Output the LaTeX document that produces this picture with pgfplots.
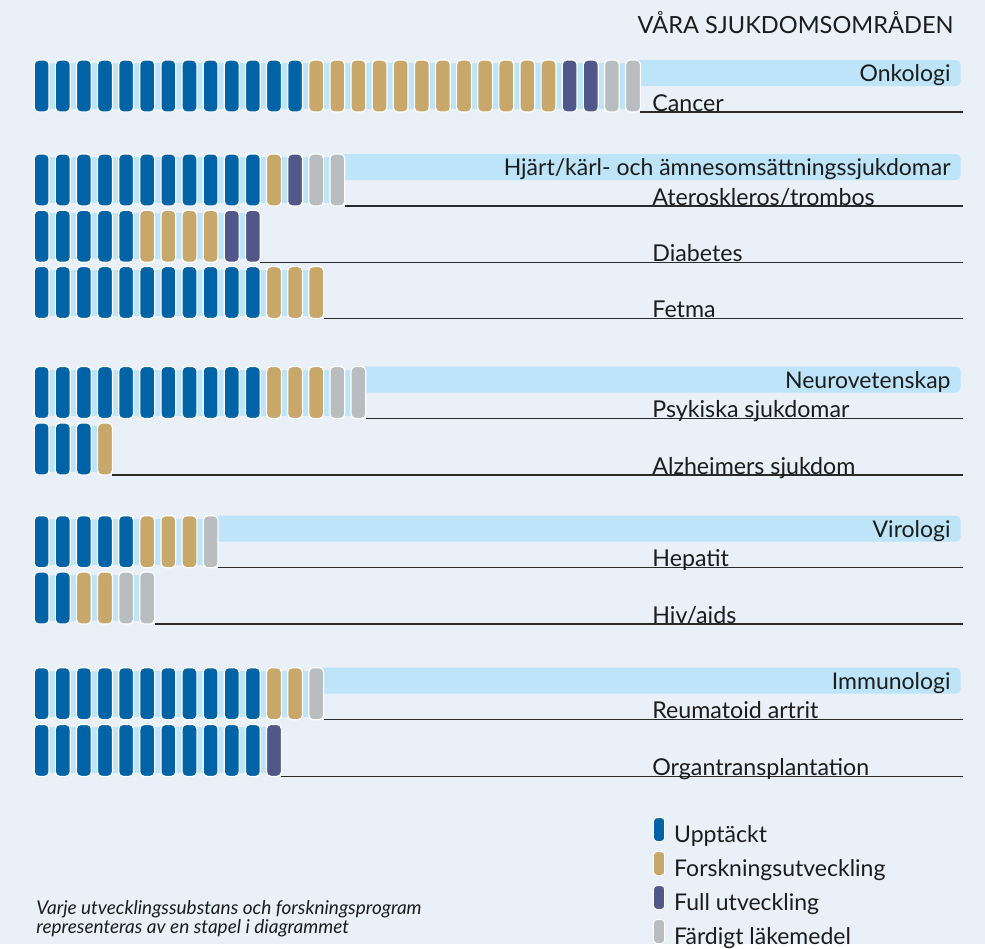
\documentclass[border=0pt]{standalone}
\usepackage{pgfplots}
\pgfplotsset{compat=1.18}
\usepackage{fontspec}
\setmainfont{Lato}
\definecolor{pagebg}{HTML}{EAF0F7}
\definecolor{band}{HTML}{BDE4F8}
\definecolor{cblue}{HTML}{0063A6}
\definecolor{ctan}{HTML}{C8A76B}
\definecolor{cpurple}{HTML}{525789}
\definecolor{cgray}{HTML}{BABDC0}
\definecolor{txt}{HTML}{1C1C1C}
\definecolor{rule}{HTML}{2A2A2A}
\pgfdeclareplotmark{pill}{%
  \pgfpathmoveto{\pgfpoint{-3.7bp}{-10.8bp}}%
  \pgfpathlineto{\pgfpoint{-3.7bp}{10.8bp}}%
  \pgfpatharc{180}{90}{2.2bp}%
  \pgfpathlineto{\pgfpoint{1.5bp}{13bp}}%
  \pgfpatharc{90}{0}{2.2bp}%
  \pgfpathlineto{\pgfpoint{3.7bp}{-10.8bp}}%
  \pgfpatharc{0}{-90}{2.2bp}%
  \pgfpathlineto{\pgfpoint{-1.5bp}{-13bp}}%
  \pgfpatharc{270}{180}{2.2bp}%
  \pgfpathclose
  \pgfusepathqfillstroke}
\newcommand{\legpill}[1]{\filldraw[fill=#1,draw=white,line width=0.5bp,rounded corners=1.8bp] (0bp,-2.5bp) rectangle (5.6bp,9.5bp);}
\newcommand{\lab}{\fontsize{11.6bp}{13bp}\selectfont}
\begin{document}
\begin{tikzpicture}
\fill[pagebg] (0,0) rectangle (492.5bp,472bp);
\begin{axis}[
  x=0.5bp, y=0.5bp, xmin=0, xmax=985, ymin=0, ymax=944, y dir=reverse,
  hide axis, clip=false, scale only axis, anchor=south west, at={(0,0)},
  legend style={at={(axis cs:653,817)}, anchor=north west, draw=none, fill=none,
    inner sep=0pt, outer sep=0pt, row sep=2bp, column sep=4.5bp,
    font=\fontsize{11.5bp}{13bp}\selectfont\color{txt},
    nodes={inner sep=0pt, text height=8bp, text depth=2.5bp}},
  legend cell align=left,
]
% light strips behind the bars (row extent)
\fill[band] (axis cs:36,63) rectangle (axis cs:638.5,109);
\fill[band] (axis cs:36,157) rectangle (axis cs:343,203);
\fill[band] (axis cs:36,213.3) rectangle (axis cs:258.5,259.3);
\fill[band] (axis cs:36,269.5) rectangle (axis cs:322,315.5);
\fill[band] (axis cs:36,369.5) rectangle (axis cs:364,415.5);
\fill[band] (axis cs:36,426) rectangle (axis cs:110.5,472);
\fill[band] (axis cs:36,518.7) rectangle (axis cs:216,564.7);
\fill[band] (axis cs:36,575) rectangle (axis cs:153,621);
\fill[band] (axis cs:36,670.7) rectangle (axis cs:322,716.7);
\fill[band] (axis cs:36,727.4) rectangle (axis cs:279.5,773.4);
% header bands
\fill[band, rounded corners=2.5bp] (axis cs:632.4,60) rectangle (axis cs:960.7,86);
\fill[band, rounded corners=2.5bp] (axis cs:336.7,154) rectangle (axis cs:960.7,180);
\fill[band, rounded corners=2.5bp] (axis cs:357.8,366.5) rectangle (axis cs:960.7,392.5);
\fill[band, rounded corners=2.5bp] (axis cs:210,515.7) rectangle (axis cs:960.7,541.7);
\fill[band, rounded corners=2.5bp] (axis cs:315.6,667.7) rectangle (axis cs:960.7,693.7);
% rules under rows
\draw[rule, line width=0.75bp] (axis cs:640.4,112) -- (axis cs:963,112);
\draw[rule, line width=0.75bp] (axis cs:344.7,206) -- (axis cs:963,206);
\draw[rule, line width=0.75bp] (axis cs:260.2,262.3) -- (axis cs:963,262.3);
\draw[rule, line width=0.75bp] (axis cs:323.6,318.5) -- (axis cs:963,318.5);
\draw[rule, line width=0.75bp] (axis cs:365.8,418.5) -- (axis cs:963,418.5);
\draw[rule, line width=0.75bp] (axis cs:112.4,475) -- (axis cs:963,475);
\draw[rule, line width=0.75bp] (axis cs:218,567.7) -- (axis cs:963,567.7);
\draw[rule, line width=0.75bp] (axis cs:154.6,624) -- (axis cs:963,624);
\draw[rule, line width=0.75bp] (axis cs:323.6,719.7) -- (axis cs:963,719.7);
\draw[rule, line width=0.75bp] (axis cs:281.3,776.4) -- (axis cs:963,776.4);
\addplot[only marks, mark=pill, mark options={fill=cblue, draw=white, line width=0.6bp},
  legend image code/.code={\legpill{cblue}}]
  table[row sep=\\, x expr=41.65+21.12*\thisrow{i}, y=r] {
  i r\\
  0 86\\ 1 86\\ 2 86\\ 3 86\\ 4 86\\ 5 86\\ 6 86\\ 7 86\\ 8 86\\ 9 86\\ 10 86\\ 11 86\\ 12 86\\
  0 180\\ 1 180\\ 2 180\\ 3 180\\ 4 180\\ 5 180\\ 6 180\\ 7 180\\ 8 180\\ 9 180\\ 10 180\\
  0 236.3\\ 1 236.3\\ 2 236.3\\ 3 236.3\\ 4 236.3\\
  0 292.5\\ 1 292.5\\ 2 292.5\\ 3 292.5\\ 4 292.5\\ 5 292.5\\ 6 292.5\\ 7 292.5\\ 8 292.5\\ 9 292.5\\ 10 292.5\\
  0 392.5\\ 1 392.5\\ 2 392.5\\ 3 392.5\\ 4 392.5\\ 5 392.5\\ 6 392.5\\ 7 392.5\\ 8 392.5\\ 9 392.5\\ 10 392.5\\
  0 449\\ 1 449\\ 2 449\\
  0 541.7\\ 1 541.7\\ 2 541.7\\ 3 541.7\\ 4 541.7\\
  0 598\\ 1 598\\
  0 693.7\\ 1 693.7\\ 2 693.7\\ 3 693.7\\ 4 693.7\\ 5 693.7\\ 6 693.7\\ 7 693.7\\ 8 693.7\\ 9 693.7\\ 10 693.7\\
  0 750.4\\ 1 750.4\\ 2 750.4\\ 3 750.4\\ 4 750.4\\ 5 750.4\\ 6 750.4\\ 7 750.4\\ 8 750.4\\ 9 750.4\\ 10 750.4\\
  };
\addlegendentry{Upptäckt}
\addplot[only marks, mark=pill, mark options={fill=ctan, draw=white, line width=0.6bp},
  legend image code/.code={\legpill{ctan}}]
  table[row sep=\\, x expr=41.65+21.12*\thisrow{i}, y=r] {
  i r\\
  13 86\\ 14 86\\ 15 86\\ 16 86\\ 17 86\\ 18 86\\ 19 86\\ 20 86\\ 21 86\\ 22 86\\ 23 86\\ 24 86\\
  11 180\\
  5 236.3\\ 6 236.3\\ 7 236.3\\ 8 236.3\\
  11 292.5\\ 12 292.5\\ 13 292.5\\
  11 392.5\\ 12 392.5\\ 13 392.5\\
  3 449\\
  5 541.7\\ 6 541.7\\ 7 541.7\\
  2 598\\ 3 598\\
  11 693.7\\ 12 693.7\\
  };
\addlegendentry{Forskningsutveckling}
\addplot[only marks, mark=pill, mark options={fill=cpurple, draw=white, line width=0.6bp},
  legend image code/.code={\legpill{cpurple}}]
  table[row sep=\\, x expr=41.65+21.12*\thisrow{i}, y=r] {
  i r\\
  25 86\\ 26 86\\
  12 180\\
  9 236.3\\ 10 236.3\\
  11 750.4\\
  };
\addlegendentry{Full utveckling}
\addplot[only marks, mark=pill, mark options={fill=cgray, draw=white, line width=0.6bp},
  legend image code/.code={\legpill{cgray}}]
  table[row sep=\\, x expr=41.65+21.12*\thisrow{i}, y=r] {
  i r\\
  27 86\\ 28 86\\
  13 180\\ 14 180\\
  14 392.5\\ 15 392.5\\
  8 541.7\\
  4 598\\ 5 598\\
  13 693.7\\
  };
\addlegendentry{Färdigt läkemedel}
% title
\node[anchor=base east, inner sep=0pt, text=txt, font=\fontsize{11.8bp}{13bp}\selectfont] at (axis cs:954,33) {VÅRA SJUKDOMSOMRÅDEN};
% group headers
\node[anchor=base east, inner sep=0pt, text=txt, font=\fontsize{11.5bp}{13bp}\selectfont] at (axis cs:951,81.5) {Onkologi};
\node[anchor=base east, inner sep=0pt, text=txt, font=\fontsize{11.5bp}{13bp}\selectfont] at (axis cs:951,175.5) {Hjärt/kärl- och ämnesomsättningssjukdomar};
\node[anchor=base east, inner sep=0pt, text=txt, font=\fontsize{11.5bp}{13bp}\selectfont] at (axis cs:951,388) {Neurovetenskap};
\node[anchor=base east, inner sep=0pt, text=txt, font=\fontsize{11.5bp}{13bp}\selectfont] at (axis cs:951,537) {Virologi};
\node[anchor=base east, inner sep=0pt, text=txt, font=\fontsize{11.5bp}{13bp}\selectfont] at (axis cs:951,689) {Immunologi};
% row labels
\node[anchor=base west, inner sep=0pt, text=txt, font=\lab] at (axis cs:652,111) {Cancer};
\node[anchor=base west, inner sep=0pt, text=txt, font=\lab] at (axis cs:652,205) {Ateroskleros/trombos};
\node[anchor=base west, inner sep=0pt, text=txt, font=\lab] at (axis cs:652,261.3) {Diabetes};
\node[anchor=base west, inner sep=0pt, text=txt, font=\lab] at (axis cs:652,317.5) {Fetma};
\node[anchor=base west, inner sep=0pt, text=txt, font=\lab] at (axis cs:652,417.5) {Psykiska sjukdomar};
\node[anchor=base west, inner sep=0pt, text=txt, font=\lab] at (axis cs:652,474) {Alzheimers sjukdom};
\node[anchor=base west, inner sep=0pt, text=txt, font=\lab] at (axis cs:652,566.7) {Hepatit};
\node[anchor=base west, inner sep=0pt, text=txt, font=\lab] at (axis cs:652,623) {Hiv/aids};
\node[anchor=base west, inner sep=0pt, text=txt, font=\lab] at (axis cs:652,718.7) {Reumatoid artrit};
\node[anchor=base west, inner sep=0pt, text=txt, font=\lab] at (axis cs:652,775.4) {Organtransplantation};
% footnote
\node[anchor=base west, inner sep=0pt, text=txt, font=\fontsize{9.5bp}{9.2bp}\selectfont\itshape] at (axis cs:36,914) {Varje utvecklingssubstans och forskningsprogram};
\node[anchor=base west, inner sep=0pt, text=txt, font=\fontsize{9.5bp}{9.2bp}\selectfont\itshape] at (axis cs:36,933) {representeras av en stapel i diagrammet};
\end{axis}
\end{tikzpicture}
\end{document}
